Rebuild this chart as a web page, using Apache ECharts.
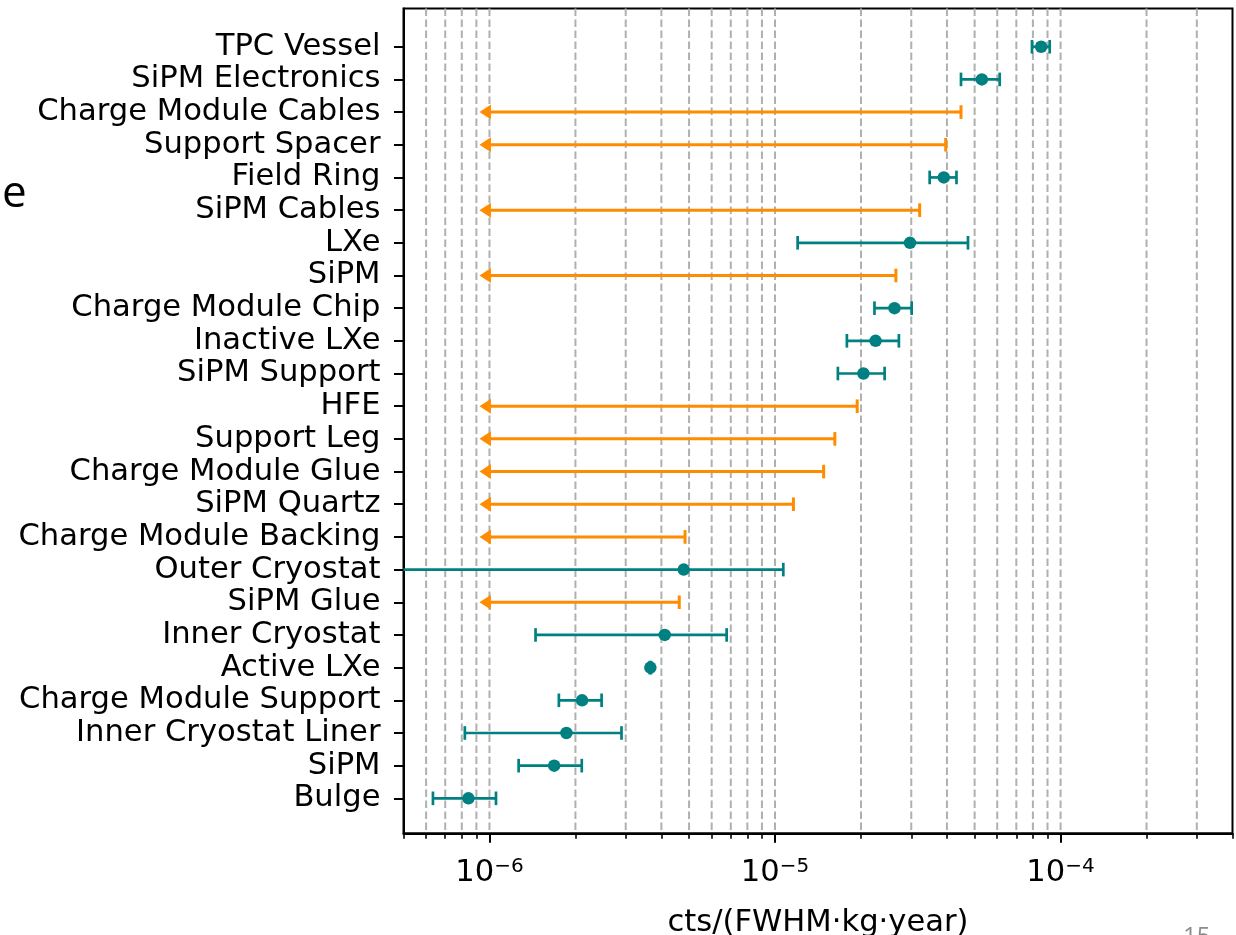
<!DOCTYPE html>
<html>
<head>
<meta charset="utf-8">
<script src="https://cdn.jsdelivr.net/npm/echarts@6/dist/echarts.min.js"></script>
<style>
  html, body { margin: 0; padding: 0; background: #ffffff; }
  #chart { width: 1236px; height: 935px; }
</style>
</head>
<body>
<div id="chart"></div>
<script>
// Background contribution per detector component, cts/(FWHM·kg·year).
// Rows with a central value are measurements (± symmetric error);
// rows with an upper limit are drawn as left-pointing limit arrows.
const categories = [
  'TPC Vessel', 'SiPM Electronics', 'Charge Module Cables', 'Support Spacer',
  'Field Ring', 'SiPM Cables', 'LXe', 'SiPM', 'Charge Module Chip',
  'Inactive LXe', 'SiPM Support', 'HFE', 'Support Leg', 'Charge Module Glue',
  'SiPM Quartz', 'Charge Module Backing', 'Outer Cryostat', 'SiPM Glue',
  'Inner Cryostat', 'Active LXe', 'Charge Module Support',
  'Inner Cryostat Liner', 'SiPM', 'Bulge'
];
const centralValues = [
  8.55e-5, 5.30e-5, null, null, 3.90e-5, null, 2.97e-5, null, 2.62e-5,
  2.25e-5, 2.04e-5, null, null, null, null, null, 4.79e-6, null,
  4.11e-6, 3.66e-6, 2.11e-6, 1.86e-6, 1.685e-6, 8.44e-7
];
const errors = [
  0.61e-5, 0.82e-5, null, null, 0.42e-5, null, 1.77e-5, null, 0.39e-5,
  0.465e-5, 0.38e-5, null, null, null, null, null, 5.9e-6, null,
  2.66e-6, 0.02e-6, 0.36e-6, 1.04e-6, 0.42e-6, 2.1e-7
];
const upperLimits = [
  null, null, 4.48e-5, 3.96e-5, null, 3.21e-5, null, 2.65e-5, null,
  null, null, 1.94e-5, 1.62e-5, 1.48e-5, 1.16e-5, 4.84e-6, null, 4.62e-6,
  null, null, null, null, null, null
];
const limitArrowEnd = 1e-6;

// Axis ticks
const majorTicks = [1e-6, 1e-5, 1e-4];
const minorTicks = [
  5e-7, 6e-7, 7e-7, 8e-7, 9e-7,
  2e-6, 3e-6, 4e-6, 5e-6, 6e-6, 7e-6, 8e-6, 9e-6,
  2e-5, 3e-5, 4e-5, 5e-5, 6e-5, 7e-5, 8e-5, 9e-5,
  2e-4, 3e-4, 4e-4
];
const gridLines = [
  6e-7, 7e-7, 8e-7, 9e-7, 1e-6,
  2e-6, 3e-6, 4e-6, 5e-6, 6e-6, 7e-6, 8e-6, 9e-6, 1e-5,
  2e-5, 3e-5, 4e-5, 5e-5, 6e-5, 7e-5, 8e-5, 9e-5, 1e-4,
  2e-4, 3e-4
];

const TEAL = '#008080';
const ORANGE = '#ff8c00';
const FONT = 'DejaVu Sans';
const rowIndex = categories.map((_, i) => i);

const measured = [];
const limits = [];
categories.forEach((_, i) => {
  if (centralValues[i] != null) measured.push([centralValues[i], i, errors[i]]);
  if (upperLimits[i] != null) limits.push([upperLimits[i], i]);
});

const CAP = 6.8;

// Vertical dashed line across the whole plot at each grid value
function renderGridLine(params, api) {
  const cs = params.coordSys;
  const x = api.coord([api.value(0), 0])[0];
  return {
    type: 'line',
    shape: { x1: x, y1: cs.y, x2: x, y2: cs.y + cs.height },
    style: { stroke: '#b0b0b0', lineWidth: 2, lineDash: [7.5, 3.5] }
  };
}

function renderErrorBar(params, api) {
  const cs = params.coordSys;
  const v = api.value(0), row = api.value(1), e = api.value(2);
  const c = api.coord([v, row]);
  const hi = api.coord([v + e, row]);
  const loInside = v - e > 0 && api.coord([v - e, row])[0] >= cs.x;
  const loX = loInside ? api.coord([v - e, row])[0] : cs.x;
  const y = c[1];
  const st = { stroke: TEAL, lineWidth: 2.7 };
  const kids = [
    { type: 'line', shape: { x1: loX, y1: y, x2: hi[0], y2: y }, style: st },
    { type: 'line', shape: { x1: hi[0], y1: y - CAP, x2: hi[0], y2: y + CAP }, style: st }
  ];
  if (loInside) {
    kids.push({ type: 'line', shape: { x1: loX, y1: y - CAP, x2: loX, y2: y + CAP }, style: st });
  }
  return { type: 'group', children: kids };
}

function renderLimit(params, api) {
  const lim = api.value(0), row = api.value(1);
  const c = api.coord([lim, row]);
  const end = api.coord([limitArrowEnd, row]);
  const y = c[1];
  const st = { stroke: ORANGE, lineWidth: 3 };
  return {
    type: 'group',
    children: [
      { type: 'line', shape: { x1: end[0], y1: y, x2: c[0], y2: y }, style: st },
      { type: 'line', shape: { x1: c[0], y1: y - CAP, x2: c[0], y2: y + CAP }, style: st },
      { type: 'polygon', shape: { points: [[end[0] + 1.5, y - 7.5], [end[0] + 1.5, y + 7.5], [end[0] - 10, y]] },
        style: { fill: ORANGE } }
    ]
  };
}

const chart = echarts.init(document.getElementById('chart'), null, { renderer: 'canvas' });

chart.setOption({
  animation: false,
  backgroundColor: '#ffffff',
  grid: {
    left: 403.5, top: 8.5, width: 829, height: 824.8,
    outerBoundsMode: 'none',
    containLabel: false,
    show: true, borderColor: '#000000', borderWidth: 2, backgroundColor: 'transparent'
  },
  xAxis: [{
    type: 'log', logBase: 10, min: 5e-7, max: 4e-4, position: 'bottom',
    axisLine: { show: true, onZero: false, lineStyle: { color: '#000', width: 2 } },
    axisTick: { show: true, customValues: majorTicks, length: 9.5, lineStyle: { color: '#000', width: 2 } },
    axisLabel: {
      customValues: majorTicks,
      margin: 23,
      formatter: function (v) {
        const p = Math.round(Math.log10(v));
        return '{b|10}{s|' + (p < 0 ? '\u2212' : '') + Math.abs(p) + '}';
      },
      rich: {
        b: { fontFamily: FONT, fontSize: 30.6, lineHeight: 34, color: '#000' },
        s: { fontFamily: FONT, fontSize: 20, lineHeight: 18, color: '#000', verticalAlign: 'top' }
      }
    },
    splitLine: { show: false },
    name: 'cts/(FWHM\u00b7kg\u00b7year)',
    nameLocation: 'middle',
    nameGap: 74,
    nameTextStyle: { fontFamily: FONT, fontSize: 30.6, color: '#000' }
  }, {
    type: 'log', logBase: 10, min: 5e-7, max: 4e-4, position: 'bottom',
    axisLine: { show: false, onZero: false },
    axisTick: { show: true, customValues: minorTicks, length: 5.5, lineStyle: { color: '#000', width: 1.6 } },
    axisLabel: { show: false },
    splitLine: { show: false }
  }],
  yAxis: {
    type: 'value', inverse: true, min: -1.17, max: 24.07,
    axisLine: { show: true, onZero: false, lineStyle: { color: '#000', width: 2 } },
    axisTick: { show: true, customValues: rowIndex, length: 9.5, lineStyle: { color: '#000', width: 2 } },
    axisLabel: {
      customValues: rowIndex,
      margin: 23,
      padding: [4, 0, 0, 0],
      formatter: function (v) { return categories[Math.round(v)]; },
      fontFamily: FONT, fontSize: 30.6, color: '#000'
    },
    splitLine: { show: false }
  },
  series: [{
    type: 'custom',
    name: 'grid',
    z: 1,
    silent: true,
    renderItem: renderGridLine,
    encode: { x: 0 },
    data: gridLines.map(v => [v])
  }, {
    type: 'custom',
    name: 'limits',
    z: 3,
    renderItem: renderLimit,
    encode: { x: 0, y: 1 },
    data: limits
  }, {
    type: 'custom',
    name: 'errors',
    z: 3,
    renderItem: renderErrorBar,
    encode: { x: 0, y: 1 },
    data: measured
  }, {
    type: 'scatter',
    name: 'measured',
    z: 4,
    symbol: 'circle',
    symbolSize: 12.5,
    itemStyle: { color: TEAL, opacity: 1 },
    encode: { x: 0, y: 1 },
    data: measured
  }],
  graphic: [{
    type: 'text', left: 2, top: 172,
    style: { text: 'e', fontFamily: 'Open Sans', fontSize: 44, fill: '#000' }
  }, {
    type: 'text', left: 1183, top: 925,
    style: { text: '15', fontFamily: 'Open Sans', fontSize: 24, fill: '#8c8c8c' }
  }]
});
</script>
</body>
</html>
